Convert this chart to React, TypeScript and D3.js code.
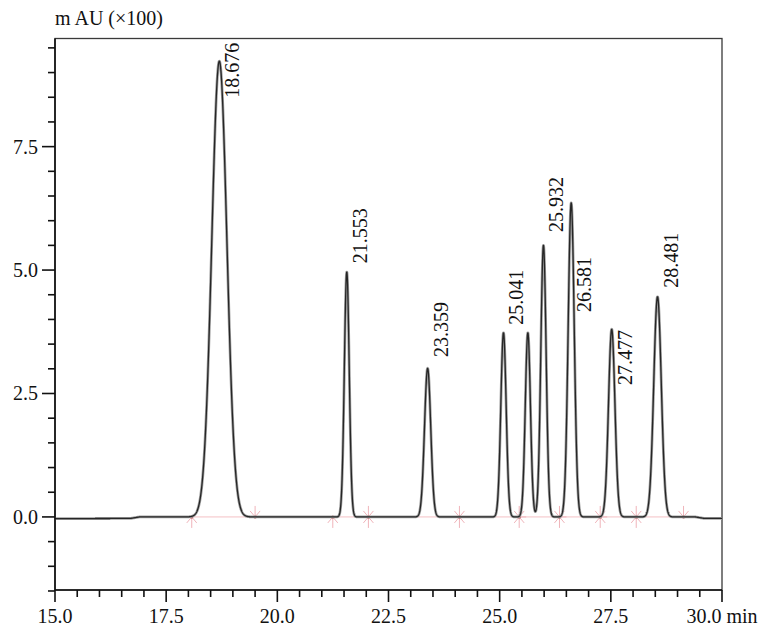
import React from "react";
import * as d3 from "d3";

// ---- data ----
const peakTimes = [18.696, 21.562, 23.38, 25.086, 25.634, 25.985, 26.609, 27.52, 28.55];
const peakHeights = [9.23, 4.96, 3.01, 3.73, 3.73, 5.5, 6.36, 3.8, 4.46];
const peakSigmas = [0.17, 0.055, 0.07, 0.06, 0.058, 0.06, 0.068, 0.072, 0.085];
const peakLabels = ["18.676", "21.553", "23.359", "25.041", "", "25.932", "26.581", "27.477", "28.481"];
const labelLevels = [8.49, 5.14, 3.24, 3.89, null, 5.77, 4.15, 2.67, 4.64];

const baselineKnots: [number, number][] = [
  [15, -0.035], [16.7, -0.03], [16.9, 0.0], [29.4, 0.0], [29.6, -0.03], [30, -0.03],
];

const markerTimes = [18.075, 19.5, 21.247, 22.048, 24.095, 25.439, 26.345, 27.261, 28.071, 29.135];
const markerKinds = ["start", "end", "start", "both", "both", "both", "both", "both", "both", "end"];

const xMajorTicks = [15, 17.5, 20, 22.5, 25, 27.5, 30];
const xTickLabels = ["15.0", "17.5", "20.0", "22.5", "25.0", "27.5", "30.0 min"];
const yMajorTicks = [0, 2.5, 5, 7.5];
const yTickLabels = ["0.0", "2.5", "5.0", "7.5"];
const yTitle = "m AU (×100)";

const W = 760, H = 629;
const left = 55, right = 722, top = 38.5, bottom = 590;
const FONT = '"Liberation Serif", "Times New Roman", Times, "DejaVu Serif", serif';
const txt: React.CSSProperties = { fontFamily: FONT, fontSize: 20 };

export default function App() {
  const x = d3.scaleLinear().domain([15, 30]).range([left, right]);
  const y = d3.scaleLinear().domain([-1.48, 9.69]).range([bottom, top]);
  const base = d3.scaleLinear().domain(baselineKnots.map(k => k[0])).range(baselineKnots.map(k => k[1]));

  const times = d3.range(15, 30.0001, 0.004);
  const signal = times.map(t => {
    let v = base(t);
    peakTimes.forEach((c, i) => {
      const z = (t - c) / peakSigmas[i];
      v += peakHeights[i] * Math.exp(-0.5 * z * z);
    });
    return [t, v] as [number, number];
  });
  const line = d3.line<[number, number]>().x(d => x(d[0])).y(d => y(d[1]));
  const path = line(signal) || "";

  const xMinor = d3.range(15, 30.001, 0.5).filter(t => !xMajorTicks.some(m => Math.abs(m - t) < 1e-6));
  const yMinor = d3.range(-1.5, 9.51, 0.5).filter(t => !yMajorTicks.some(m => Math.abs(m - t) < 1e-6));

  const y0 = y(0);

  return (
    <svg width={W} height={H} style={{ position: "absolute", left: 0, top: 0, background: "#fff" }}>
      <rect x={0} y={0} width={W} height={H} fill="#fff" />
      {/* frame */}
      <rect x={left} y={top} width={right - left} height={bottom - top} fill="none" stroke="#3a3a3a" strokeWidth={1.3} />

      {/* integration baseline */}
      <line x1={x(markerTimes[0])} x2={x(markerTimes[markerTimes.length - 1])} y1={y0} y2={y0}
        stroke="#f4c0c4" strokeWidth={1} />

      {/* markers */}
      {markerTimes.map((t, i) => {
        const cx = x(t);
        const k = markerKinds[i];
        const segs: [number, number][] = [];
        if (k === "start" || k === "both") segs.push([0, 11], [-5, 6], [5, 6]);
        if (k === "end" || k === "both") segs.push([0, -11], [-5, -6], [5, -6]);
        if (k === "both") segs.push([-7, 0], [7, 0]);
        return (
          <g key={i}>
            {segs.map((s, j) => (
              <line key={j} x1={cx} y1={y0} x2={cx + s[0]} y2={y0 + s[1]} stroke="#f0b4ba" strokeWidth={1} />
            ))}
            <circle cx={cx} cy={y0} r={1.5} fill="#a84444" />
          </g>
        );
      })}

      {/* chromatogram */}
      <path d={path} fill="none" stroke="#a0a0a0" strokeWidth={2.8} strokeLinejoin="round" />
      <path d={path} fill="none" stroke="#262626" strokeWidth={1.3} strokeLinejoin="round" />

      {/* peak labels */}
      {peakTimes.map((c, i) => {
        const lv = labelLevels[i];
        if (!peakLabels[i] || lv === null) return null;
        const tx = x(c) + 20;
        const ty = y(lv);
        return (
          <text key={i} transform={`translate(${tx},${ty}) rotate(-90)`} style={txt} fill="#111">
            {peakLabels[i]}
          </text>
        );
      })}

      {/* x axis */}
      <line x1={left} x2={right} y1={bottom} y2={bottom} stroke="#111" strokeWidth={1.6} />
      {xMajorTicks.map((t, i) => (
        <g key={"xm" + i}>
          <line x1={x(t)} x2={x(t)} y1={bottom} y2={bottom + 12} stroke="#111" strokeWidth={1.6} />
          <text x={x(t)} y={623} textAnchor="middle" style={txt} fill="#111">{xTickLabels[i]}</text>
        </g>
      ))}
      {xMinor.map((t, i) => (
        <line key={"xn" + i} x1={x(t)} x2={x(t)} y1={bottom} y2={bottom + 7} stroke="#111" strokeWidth={1.6} />
      ))}

      {/* y axis */}
      <line x1={left} x2={left} y1={top} y2={bottom} stroke="#111" strokeWidth={1.6} />
      {yMajorTicks.map((t, i) => (
        <g key={"ym" + i}>
          <line x1={left - 13} x2={left} y1={y(t)} y2={y(t)} stroke="#111" strokeWidth={1.6} />
          <text x={38} y={y(t)} dy="0.35em" textAnchor="end" style={txt} fill="#111">{yTickLabels[i]}</text>
        </g>
      ))}
      {yMinor.map((t, i) => (
        <line key={"yn" + i} x1={left - 7} x2={left} y1={y(t)} y2={y(t)} stroke="#111" strokeWidth={1.6} />
      ))}

      <text x={55} y={25} style={txt} fill="#111">{yTitle}</text>
    </svg>
  );
}
